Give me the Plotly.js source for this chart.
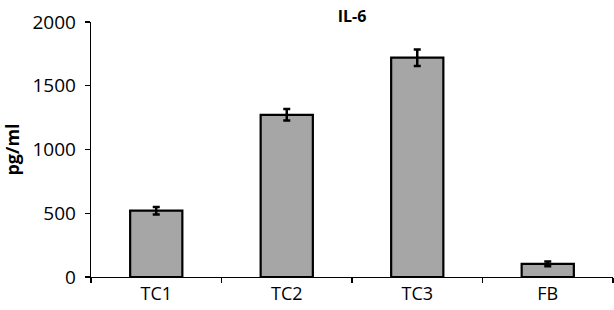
<!DOCTYPE html>
<html>
<head>
<meta charset="utf-8">
<script src="https://cdn.plot.ly/plotly-3.0.1.min.js"></script>
<style>html,body{margin:0;padding:0;background:#fff;}#chart{width:614px;height:310px;}</style>
</head>
<body>
<div id="chart"></div>
<script>
const categories = ["TC1", "TC2", "TC3", "FB"];
const values = [520, 1272, 1720, 103];
const errors = [30, 45, 65, 18];
const yTicks = [0, 500, 1000, 1500, 2000];

const trace = {
  type: "bar",
  x: categories,
  y: values,
  width: 0.4,
  marker: {color: "#a6a6a6", line: {color: "#000", width: 2.2}},
  error_y: {type: "data", array: errors, visible: true, color: "#000", thickness: 2.5, width: 3.5}
};

const layout = {
  width: 614, height: 310,
  margin: {l: 91, r: 1, t: 22, b: 33},
  paper_bgcolor: "#fff", plot_bgcolor: "#fff",
  showlegend: false,
  font: {family: "Open Sans, sans-serif", size: 19, color: "#000"},
  title: {text: "<b>IL-6</b>", x: 0.5, xref: "paper", xanchor: "center", y: 0.965, yref: "container", font: {size: 16, family: "Open Sans, sans-serif"}},
  xaxis: {
    type: "category", range: [-0.5, 3.5],
    showline: true, linecolor: "#000", linewidth: 1.3,
    ticks: "outside", tickson: "boundaries", ticklen: 5, tickcolor: "#000", tickwidth: 1.3,
    showgrid: false, zeroline: false,
    tickfont: {size: 18}
  },
  yaxis: {
    range: [0, 2000], tickvals: yTicks, ticktext: yTicks.map(String),
    showline: true, linecolor: "#000", linewidth: 1.3,
    ticks: "outside", ticklen: 5, tickcolor: "#000", tickwidth: 1.3,
    showgrid: false, zeroline: false,
    tickfont: {size: 19},
    ticklabelstandoff: 5,
    title: {text: "<b>pg/ml</b>", font: {size: 18}, standoff: 14}
  },
  bargap: 0.6
};

Plotly.newPlot("chart", [trace], layout, {displayModeBar: false, staticPlot: true});
</script>
</body>
</html>
